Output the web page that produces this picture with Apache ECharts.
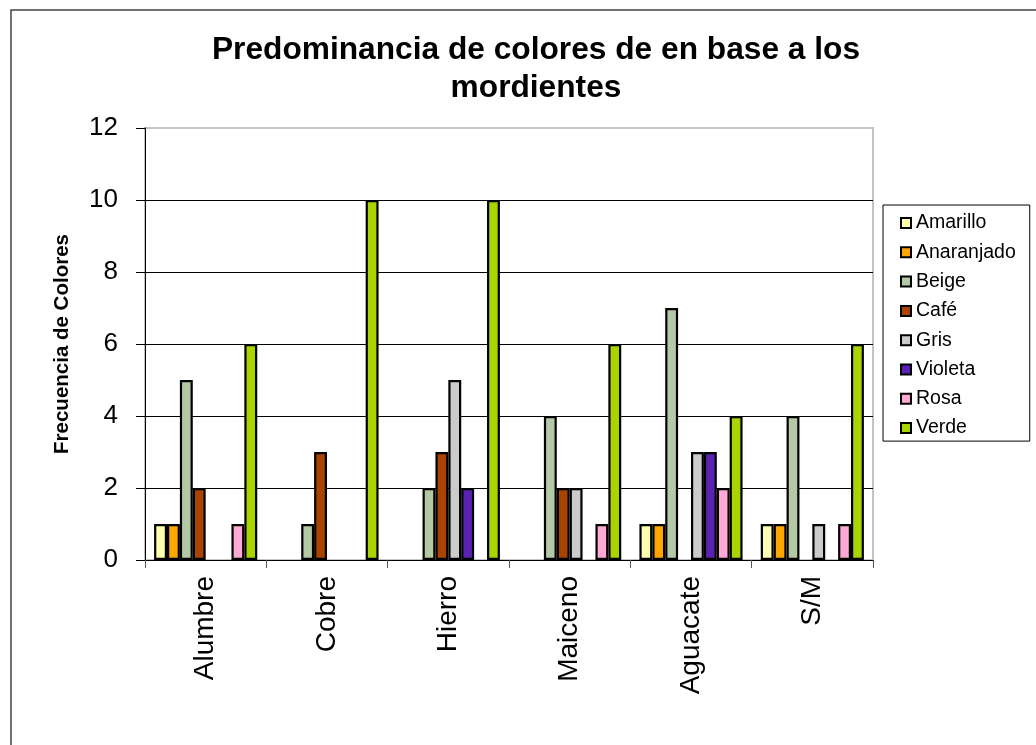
<!DOCTYPE html>
<html>
<head>
<meta charset="utf-8">
<title>Predominancia de colores</title>
<script src="https://cdn.jsdelivr.net/npm/echarts@6/dist/echarts.min.js"></script>
<style>
	html, body { margin: 0; padding: 0; background: #fff; }
	#main { width: 1036px; height: 745px; }
</style>
</head>
<body>
<div id="main"></div>
<script>
	// categorias (mordientes)
	var mordientes = ['Alumbre', 'Cobre', 'Hierro', 'Maiceno', 'Aguacate', 'S/M'];
	// frecuencia de cada color por mordiente
	var amarillo = [1, 0, 0, 0, 1, 1];
	var anaranjado = [1, 0, 0, 0, 1, 1];
	var beige = [5, 1, 2, 4, 7, 4];
	var cafe = [2, 3, 3, 2, 0, 0];
	var gris = [0, 0, 5, 2, 3, 1];
	var violeta = [0, 0, 2, 0, 3, 0];
	var rosa = [1, 0, 0, 1, 2, 1];
	var verde = [6, 10, 10, 6, 4, 6];
	var yTicks = [0, 2, 4, 6, 8, 10, 12];

	var nombres = ['Amarillo', 'Anaranjado', 'Beige', 'Café', 'Gris', 'Violeta', 'Rosa', 'Verde'];
	var valores = [amarillo, anaranjado, beige, cafe, gris, violeta, rosa, verde];
	var colores = ['#FFFFB0', '#FFA500', '#B3C8A4', '#A84400', '#CBCBCB', '#5A22B0', '#FFAAD5', '#AAD400'];

	var myChart = echarts.init(document.getElementById('main'));

	// los ceros no se dibujan (como en la hoja original)
	var series = nombres.map(function(n, i) {
		return {
			name: n,
			type: 'bar',
			data: valores[i].map(function(v) { return v === 0 ? '-' : v; }),
			barGap: 0,
			barCategoryGap: '15%',
			itemStyle: {
				color: colores[i],
				borderColor: '#000',
				borderWidth: 2.2
			}
		};
	});

	var option = {
		animation: false,
		textStyle: { fontFamily: 'Liberation Sans, Arial, sans-serif' },
		graphic: [{
			type: 'rect',
			shape: { x: 11, y: 10, width: 1100, height: 800 },
			style: { fill: 'none', stroke: '#444', lineWidth: 1.5 },
			silent: true
		}],
		title: {
			text: 'Predominancia de colores de en base a los\nmordientes',
			left: 536,
			top: 31,
			padding: 0,
			textAlign: 'center',
			textStyle: {
				fontSize: 31.7,
				fontWeight: 'bold',
				color: '#000',
				lineHeight: 38,
				fontFamily: 'Liberation Sans, Arial, sans-serif'
			}
		},
		legend: {
			orient: 'vertical',
			left: 883,
			top: 205,
			padding: [8, 14, 3, 17],
			borderColor: '#000',
			borderWidth: 1,
			itemWidth: 10,
			itemHeight: 10,
			itemGap: 9.3,
			itemTextGap: 3,
			icon: 'rect',
			itemStyle: { borderColor: '#000', borderWidth: 2 },
			textStyle: { fontSize: 19.5, color: '#000', lineHeight: 20 },
			data: nombres
		},
		grid: {
			left: 145,
			top: 128,
			right: 163,
			bottom: 185,
			show: true,
			borderColor: '#c4c4c4',
			borderWidth: 2
		},
		xAxis: {
			type: 'category',
			data: mordientes,
			axisLine: { lineStyle: { color: '#000', width: 1 } },
			axisTick: { show: true, length: 8, lineStyle: { color: '#555' } },
			axisLabel: {
				rotate: 90,
				fontSize: 28,
				color: '#000',
				margin: 16
			}
		},
		yAxis: {
			type: 'value',
			min: yTicks[0],
			max: yTicks[yTicks.length - 1],
			interval: 2,
			name: 'Frecuencia de Colores',
			nameLocation: 'middle',
			nameGap: 72,
			nameTextStyle: { fontSize: 20.5, fontWeight: 'bold', color: '#000' },
			axisLine: { show: true, lineStyle: { color: '#000', width: 1 } },
			axisTick: { show: true, length: 9, lineStyle: { color: '#000' } },
			axisLabel: { fontSize: 26, color: '#000', margin: 27 },
			splitLine: {
				lineStyle: { color: ['#000', '#000', '#000', '#000', '#000', '#000', '#c4c4c4'], width: 1 }
			}
		},
		series: series
	};

	myChart.setOption(option);
</script>
</body>
</html>
